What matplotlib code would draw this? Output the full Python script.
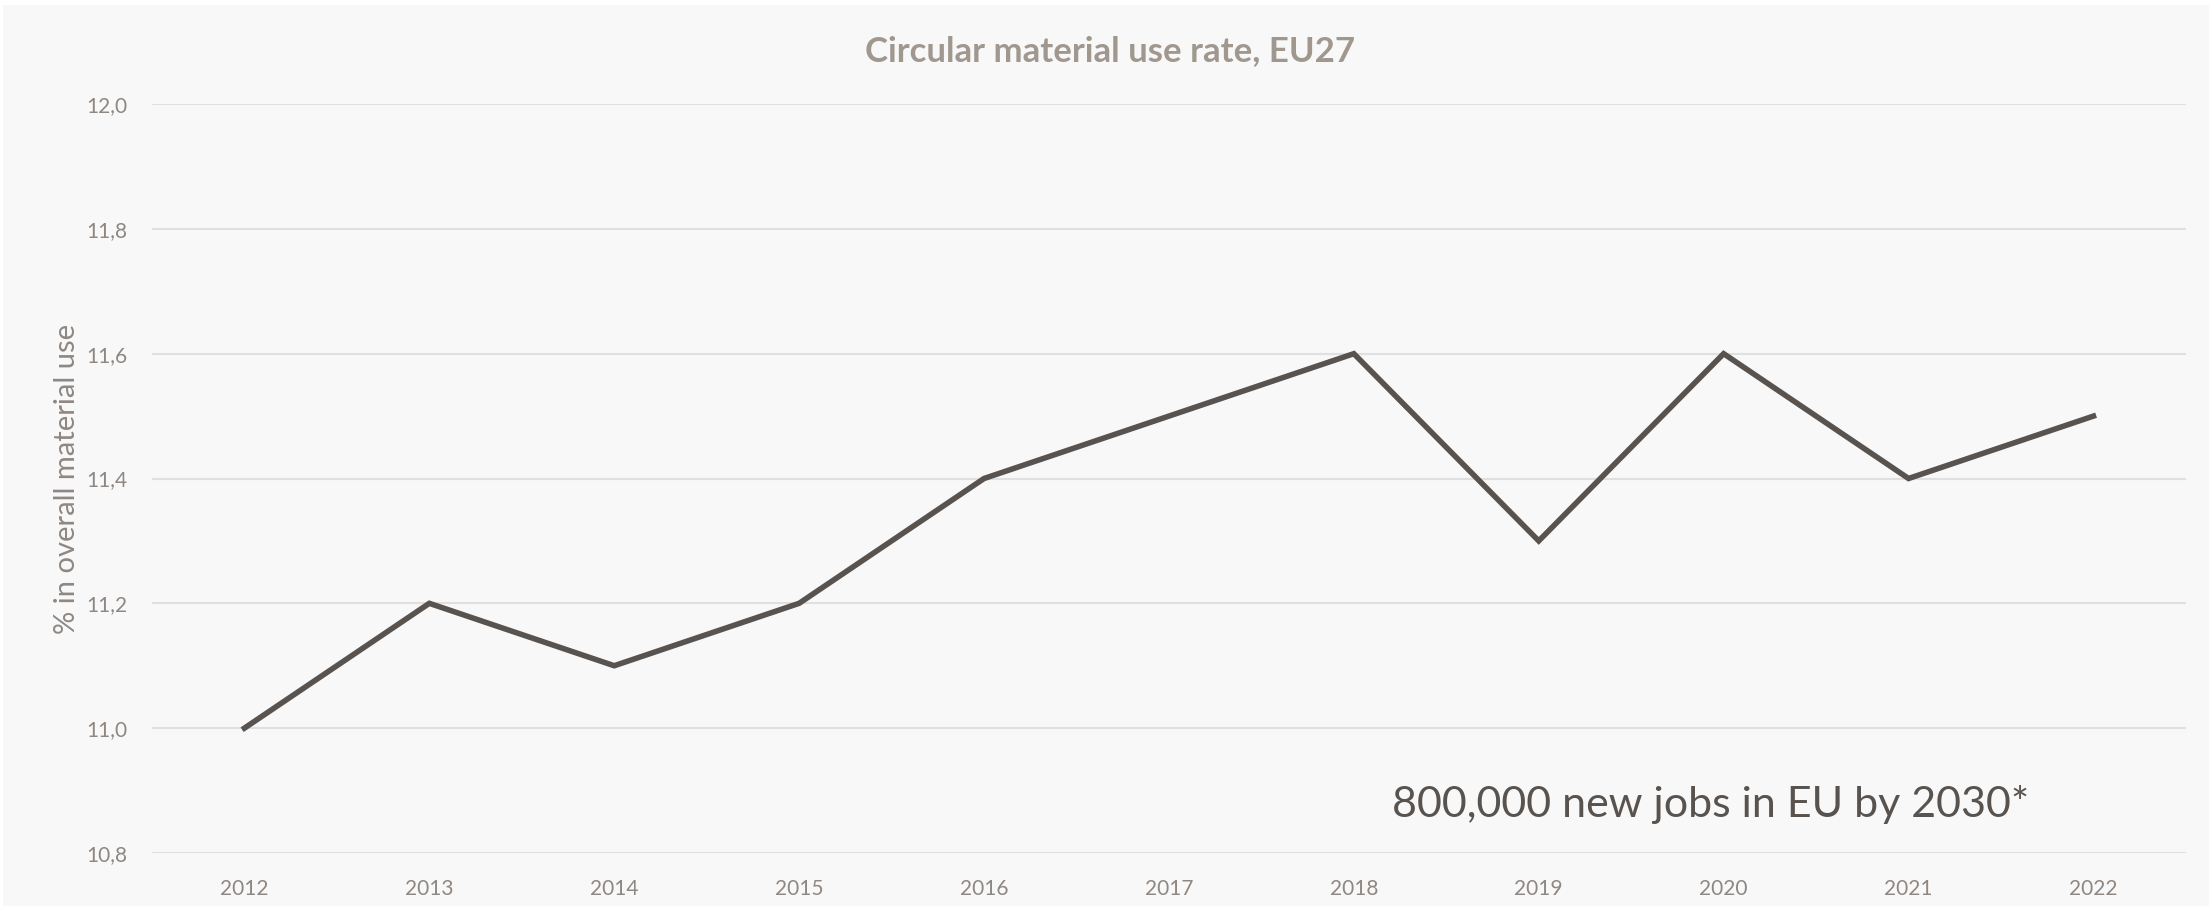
import matplotlib
matplotlib.use("Agg")
import matplotlib.pyplot as plt
from matplotlib.patches import Rectangle

plt.rcParams["font.family"] = ["Lato", "DejaVu Sans"]

# Data
years = ["2012", "2013", "2014", "2015", "2016", "2017", "2018", "2019", "2020", "2021", "2022"]
rate = [11.0, 11.2, 11.1, 11.2, 11.4, 11.5, 11.6, 11.3, 11.6, 11.4, 11.5]
y_ticks = [10.8, 11.0, 11.2, 11.4, 11.6, 11.8, 12.0]

BG = "#F8F8F8"
LINE = "#59534F"
TICK = "#8E8782"
TITLE = "#A0978F"

fig = plt.figure(figsize=(22.12, 9.11), dpi=100, facecolor="white")
fig.patches.append(Rectangle((0.0014, 0.006), 0.9972, 0.988, transform=fig.transFigure,
                             facecolor=BG, edgecolor="none", zorder=-10))

ax = fig.add_axes([0.0687, 0.0637, 0.9195, 0.8221])
ax.set_facecolor(BG)
x = list(range(len(years)))
ax.plot(x, rate, color=LINE, linewidth=4, solid_joinstyle="miter", zorder=3)

ax.set_xlim(-0.5, len(years) - 0.5)
ax.set_ylim(10.8, 12.0)
ax.set_yticks(y_ticks)
ax.set_yticklabels([f"{v:.1f}".replace(".", ",") for v in y_ticks])
ax.set_xticks(x)
ax.set_xticklabels(years)
ax.tick_params(axis="both", length=0, labelsize=15, labelcolor=TICK)
ax.tick_params(axis="y", pad=18)
ax.tick_params(axis="x", pad=19)
ax.grid(True, axis="y", color="#E0E0E0", linewidth=1.5)
ax.set_axisbelow(True)
for s in ax.spines.values():
    s.set_visible(False)

ax.set_ylabel("% in overall material use", fontsize=21, color=TICK, labelpad=4)
fig.text(0.502, 0.944, "Circular material use rate, EU27", ha="center", va="center",
         fontsize=25, fontweight="bold", color=TITLE)
ax.text(7.93, 10.878, "800,000 new jobs in EU by 2030*", ha="center", va="center",
        fontsize=31, color=LINE)

fig.savefig("out.png", dpi=100, facecolor="white")
